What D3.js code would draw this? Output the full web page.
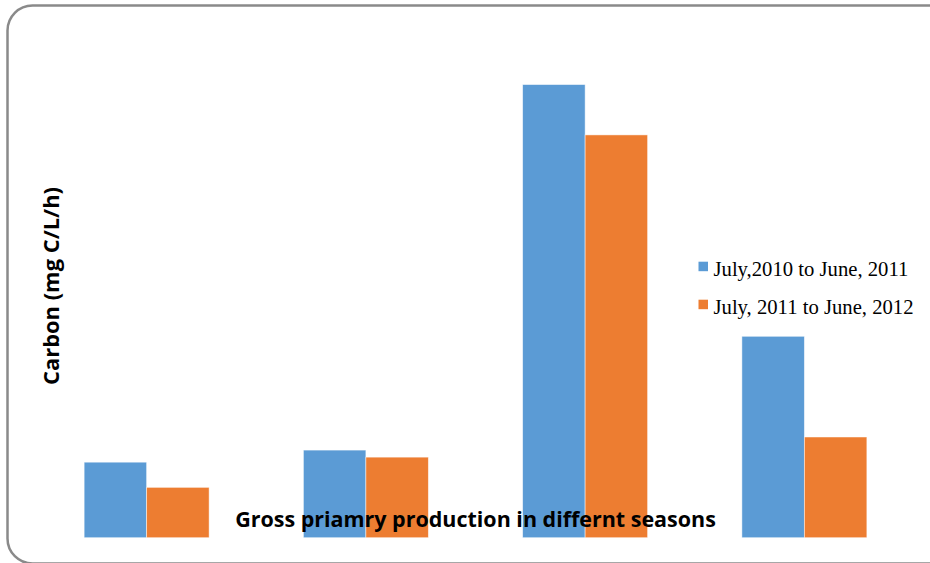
<!DOCTYPE html>
<meta charset="utf-8">
<style>

body {
  margin: 0;
  background: #fff;
}

.title, .ylabel {
  font-family: "Open Sans", sans-serif;
  font-weight: bold;
  fill: #000;
}

.legend text {
  font-family: "Liberation Serif", "Times New Roman", serif;
  fill: #000;
}

</style>
<body>
<script src="https://d3js.org/d3.v7.js"></script>
<script>

// seasons (not labelled in the source chart)
const seasons = ["Summer", "Monsoon", "Post-monsoon", "Winter"];

const seriesNames = ["July,2010 to June, 2011", "July, 2011 to June, 2012"];

// carbon, mg C/L/h
const year1 = [0.75, 0.87, 4.5, 2.0];
const year2 = [0.50, 0.80, 4.0, 1.0];

const yMax = 5;

const width = 930;
const height = 563;

const colors = ["#5b9bd5", "#ed7d31"];

const svg = d3.select("body").append("svg")
    .attr("width", width)
    .attr("height", height);

// rounded frame of the slide
svg.append("rect")
    .attr("x", 7.5)
    .attr("y", 5.5)
    .attr("width", 945)
    .attr("height", 558)
    .attr("rx", 25)
    .attr("fill", "none")
    .attr("stroke", "#8a8a8a")
    .attr("stroke-width", 2.5);

const x0 = d3.scaleBand()
    .domain(seasons)
    .range([37, 914])
    .paddingInner(0.43)
    .paddingOuter(0.215);

const x1 = d3.scaleBand()
    .domain([0, 1])
    .range([0, x0.bandwidth()]);

const y = d3.scaleLinear()
    .domain([0, yMax])
    .range([537.7, 34.2]);

const rows = seasons.map((s, i) => ({season: s, values: [year1[i], year2[i]]}));

const group = svg.selectAll(".season")
    .data(rows)
  .enter().append("g")
    .attr("class", "season")
    .attr("transform", d => `translate(${x0(d.season)},0)`);

group.selectAll("rect")
    .data(d => d.values.map((v, k) => ({k: k, v: v})))
  .enter().append("rect")
    .attr("x", d => x1(d.k))
    .attr("y", d => y(d.v))
    .attr("width", x1.bandwidth())
    .attr("height", d => y(0) - y(d.v))
    .attr("fill", d => colors[d.k])
    .attr("stroke", "#fff")
    .attr("stroke-opacity", 0.6)
    .attr("stroke-width", 0.8);

// shrink or grow a text node until it is the wanted width
function fit(sel, target, size) {
  sel.style("font-size", size + "px");
  const w = sel.node().getComputedTextLength();
  const s = size * target / w;
  sel.style("font-size", s + "px");
  return s;
}

const title = svg.append("text")
    .attr("class", "title")
    .attr("x", 475.5)
    .attr("y", 527)
    .attr("text-anchor", "middle")
    .text("Gross priamry production in differnt seasons");
fit(title, 481, 20);

const ylabel = svg.append("text")
    .attr("class", "ylabel")
    .attr("transform", "translate(59,286) rotate(-90)")
    .attr("text-anchor", "middle")
    .text("Carbon (mg C/L/h)");
fit(ylabel, 198, 20);

const legend = svg.append("g")
    .attr("class", "legend")
    .attr("transform", "translate(698.5,261.7)");

const item = legend.selectAll("g")
    .data(seriesNames)
  .enter().append("g")
    .attr("transform", (d, i) => `translate(0,${i * 38})`);

item.append("rect")
    .attr("width", 9.5)
    .attr("height", 9.5)
    .attr("fill", (d, i) => colors[i]);

const labels = item.append("text")
    .attr("x", 15)
    .attr("y", 14.3)
    .text(d => d);

const legendSize = fit(labels.filter((d, i) => i === 0), 195, 17);
labels.style("font-size", legendSize + "px");

</script>
